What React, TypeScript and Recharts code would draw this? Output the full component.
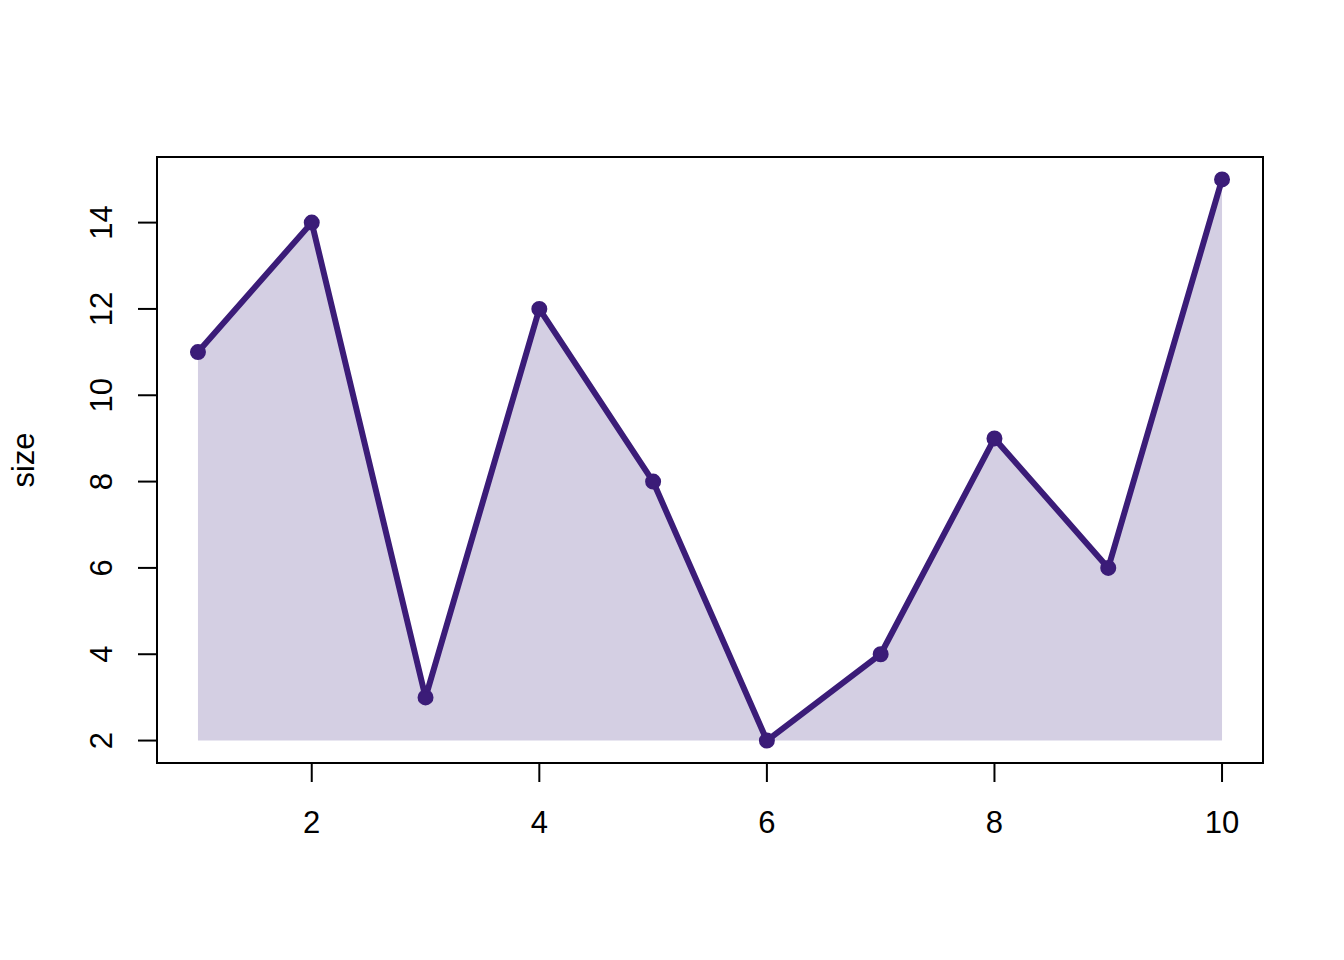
import { ComposedChart, Area, Line, XAxis, YAxis, ReferenceArea } from 'recharts';

const xs = [1, 2, 3, 4, 5, 6, 7, 8, 9, 10];
const sizes = [11, 14, 3, 12, 8, 2, 4, 9, 6, 15];
const xTicks = [2, 4, 6, 8, 10];
const yTicks = [2, 4, 6, 8, 10, 12, 14];
const baseline = 2;

const data = xs.map((x, i) => ({ x, size: sizes[i], band: [baseline, sizes[i]] }));

const FONT = '"Liberation Sans", Arial, Helvetica, sans-serif';
const FS = 31;
const LINE = '#3b1c78';
const FILL = '#d4cfe3';

const YTick = (props: any) => {
  const { x, y, payload } = props;
  return (
    <text
      x={x}
      y={y}
      transform={`rotate(-90 ${x} ${y})`}
      textAnchor="middle"
      fill="#000"
      fontSize={FS}
      fontFamily={FONT}
    >
      {payload.value}
    </text>
  );
};

export default function App() {
  return (
    <div style={{ position: 'absolute', left: 0, top: 0, width: 1344, height: 960, background: '#fff' }}>
      <ComposedChart
        width={1344}
        height={960}
        data={data}
        margin={{ top: 157, right: 81, bottom: 97, left: 57 }}
      >
        <XAxis
          type="number"
          dataKey="x"
          domain={[0.64, 10.36]}
          ticks={xTicks}
          allowDataOverflow
          height={100}
          axisLine={false}
          tickSize={19}
          tickMargin={29}
          tickLine={{ stroke: '#000', strokeWidth: 2 }}
          tick={{ fill: '#000', fontSize: FS, fontFamily: FONT }}
        />
        <YAxis
          type="number"
          domain={[1.48, 15.52]}
          ticks={yTicks}
          allowDataOverflow
          width={100}
          axisLine={false}
          tickSize={19}
          tickMargin={26}
          tickLine={{ stroke: '#000', strokeWidth: 2 }}
          tick={<YTick />}
          label={{
            content: (p: any) => {
              const vb = p.viewBox;
              const cx = vb.x - 23;
              const cy = vb.y + vb.height / 2;
              return (
                <text
                  x={cx}
                  y={cy}
                  transform={`rotate(-90 ${cx} ${cy})`}
                  textAnchor="middle"
                  fill="#000"
                  fontSize={FS}
                  fontFamily={FONT}
                >
                  size
                </text>
              );
            },
          }}
        />
        <Area
          type="linear"
          dataKey="band"
          stroke="none"
          fill={FILL}
          fillOpacity={1}
          isAnimationActive={false}
          activeDot={false}
        />
        <Line
          type="linear"
          dataKey="size"
          stroke={LINE}
          strokeWidth={6}
          strokeLinejoin="round"
          dot={{ r: 7, fill: LINE, stroke: LINE, strokeWidth: 2 }}
          activeDot={false}
          isAnimationActive={false}
        />
        <ReferenceArea
          x1={0.64}
          x2={10.36}
          y1={1.48}
          y2={15.52}
          fill="none"
          fillOpacity={0}
          stroke="#000"
          strokeWidth={2}
          ifOverflow="visible"
        />
      </ComposedChart>
    </div>
  );
}
